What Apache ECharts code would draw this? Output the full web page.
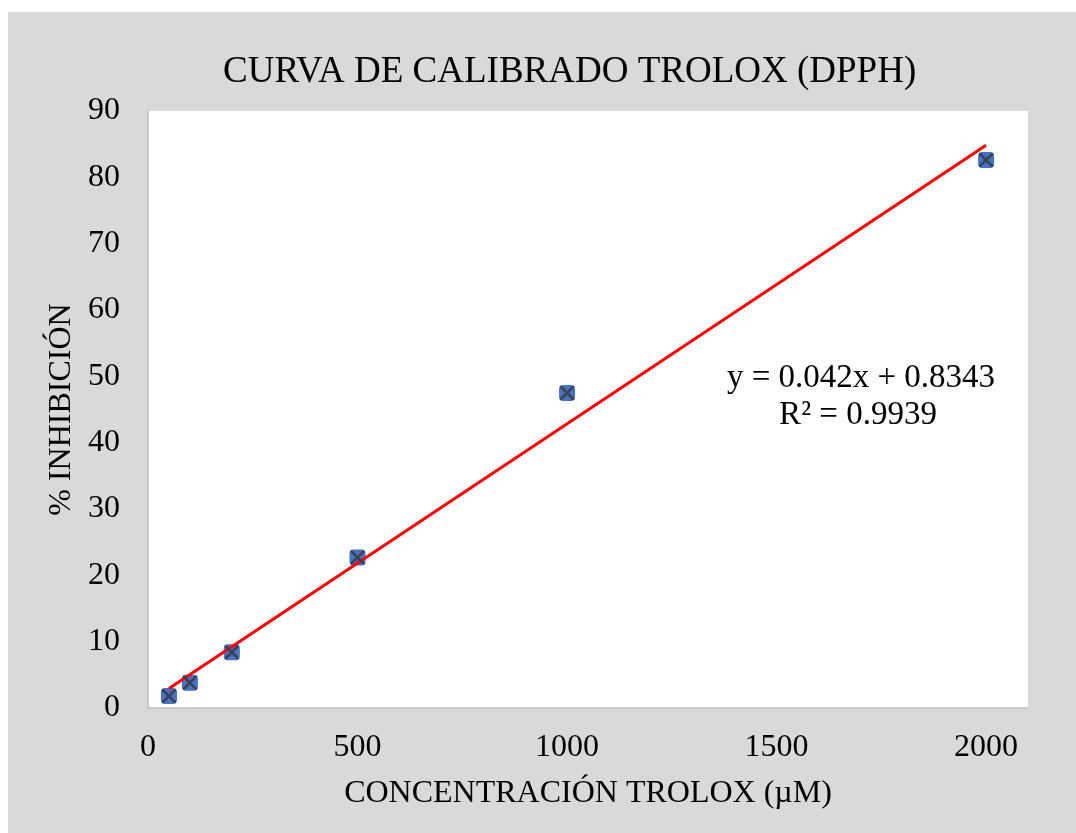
<!DOCTYPE html>
<html>
<head>
<meta charset="utf-8">
<script src="https://cdn.jsdelivr.net/npm/echarts@6/dist/echarts.min.js"></script>
<style>
html,body{margin:0;padding:0;background:#ffffff;}
#chart{position:absolute;left:8px;top:12px;width:1068px;height:821px;background:#d9d9d9;}
</style>
</head>
<body>
<div id="chart"></div>
<script>
// Data
const concentrations = [50, 100, 200, 500, 1000, 2000];
const inhibition = [1.8, 3.8, 8.4, 22.7, 47.5, 82.6];
const trendX = [50, 2000];
const trendY = [2.93, 84.83];
const titleText = 'CURVA DE CALIBRADO TROLOX (DPPH)';
const xAxisName = 'CONCENTRACIÓN TROLOX (µM)';
const yAxisName = '% INHIBICIÓN';
const equationLines = ['y = 0.042x + 0.8343', 'R² = 0.9939'];

const FONT = "'Liberation Serif', 'Times New Roman', serif";
const points = concentrations.map((x, i) => [x, inhibition[i]]);
const trend = trendX.map((x, i) => [x, trendY[i]]);

const chart = echarts.init(document.getElementById('chart'), null, {renderer: 'canvas'});
chart.setOption({
  backgroundColor: '#d9d9d9',
  animation: false,
  title: {
    text: titleText,
    left: 210,
    top: 37,
    textStyle: {fontFamily: FONT, fontSize: 37, fontWeight: 'normal', color: '#000'}
  },
  grid: {
    left: 140, top: 99, right: 48, bottom: 125,
    show: true, backgroundColor: '#ffffff', borderWidth: 0
  },
  xAxis: {
    type: 'value', min: 0, max: 2100, interval: 500,
    name: xAxisName, nameLocation: 'middle', nameGap: 70,
    nameTextStyle: {fontFamily: FONT, fontSize: 32, color: '#000'},
    axisLine: {show: true, lineStyle: {color: '#bfbfbf', width: 1.5}},
    axisTick: {show: false},
    splitLine: {show: false},
    axisLabel: {
      fontFamily: FONT, fontSize: 32, color: '#000', margin: 24,
      formatter: v => (v % 500 === 0 ? String(v) : '')
    }
  },
  yAxis: {
    type: 'value', min: 0, max: 90, interval: 10,
    name: yAxisName, nameLocation: 'middle', nameGap: 65, nameRotate: 90,
    nameTextStyle: {fontFamily: FONT, fontSize: 32, color: '#000'},
    axisLine: {show: true, lineStyle: {color: '#bfbfbf', width: 1.5}},
    axisTick: {show: false},
    splitLine: {show: false},
    axisLabel: {fontFamily: FONT, fontSize: 32, color: '#000', margin: 28}
  },
  series: [
    {
      type: 'scatter', data: points, symbol: 'roundRect', symbolSize: 16,
      itemStyle: {color: '#4472c4', opacity: 1}, z: 2
    },
    {
      type: 'line', data: trend, showSymbol: false, symbol: 'none',
      lineStyle: {color: '#ff0000', width: 3}, z: 3, silent: true
    },
    {
      type: 'scatter', data: points,
      symbol: 'path://M0,0 L1.3,0 L10,8.7 L10,10 L8.7,10 L0,1.3 Z M10,0 L10,1.3 L1.3,10 L0,10 L0,8.7 L8.7,0 Z',
      symbolSize: 14,
      itemStyle: {color: '#3a4252', opacity: 1}, z: 4
    }
  ],
  graphic: [
    {
      type: 'text', x: 853, y: 366, z: 10,
      style: {
        text: equationLines[0], fill: '#000', font: '33px ' + FONT,
        align: 'center', verticalAlign: 'middle'
      }
    },
    {
      type: 'text', x: 850, y: 403, z: 10,
      style: {
        text: equationLines[1], fill: '#000', font: '33px ' + FONT,
        align: 'center', verticalAlign: 'middle'
      }
    }
  ]
});
</script>
</body>
</html>
